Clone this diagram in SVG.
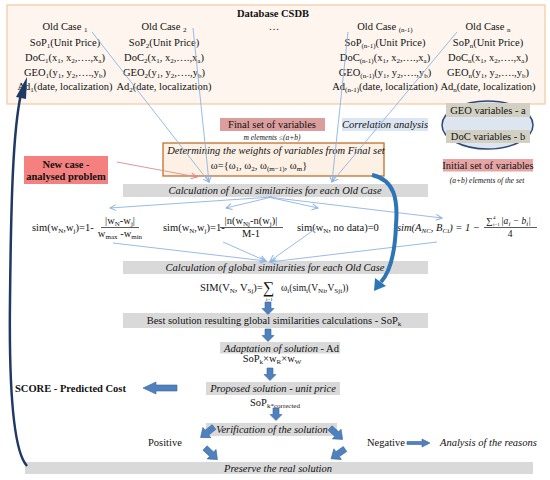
<svg xmlns="http://www.w3.org/2000/svg" width="550" height="480" viewBox="0 0 550 480">
<style>
text{font-family:"Liberation Serif","Times New Roman",serif;font-size:10.5px;fill:#111}
.c{text-anchor:middle}
.i{font-style:italic}
.b{font-weight:bold}
.s{font-size:7px}
.m{font-size:9.5px}
.bar{fill:#d9d9d9}
.ln{stroke:#8db3e2;stroke-width:0.9;fill:none;marker-end:url(#ah)}
.ba{fill:#4f81bd;stroke:#3b64a0;stroke-width:0.6}
</style>
<defs>
<marker id="ah" markerWidth="8" markerHeight="8" refX="7" refY="4" orient="auto" markerUnits="userSpaceOnUse"><path d="M1,1 L7,4 L1,7" fill="none" stroke="#8db3e2" stroke-width="1"/></marker>
<marker id="ahr" markerWidth="8" markerHeight="8" refX="7" refY="4" orient="auto" markerUnits="userSpaceOnUse"><path d="M1,1 L7,4 L1,7" fill="none" stroke="#e08a8a" stroke-width="1"/></marker>
<path id="da" d="M-3,0H3V6.5H6L0,12.5L-6,6.5H-3Z"/>
<path id="dg" d="M-3,0H3V9H6.5L0,17L-6.5,9H-3Z"/>
</defs>

<g id="database">
<rect x="7" y="5" width="538" height="99" fill="#fdf5ee" stroke="#f6c9a2" stroke-width="1.2"/>
<text class="c b" x="273" y="17">Database CSDB</text>
<text class="c" x="274" y="30">…</text>
</g>
<g id="oldcase1">
<text class="c" x="65" y="30">Old Case <tspan class="s" dy="2">1</tspan></text>
<text class="c" x="65" y="46">SoP<tspan class="s" dy="2">1</tspan><tspan dy="-2">(Unit Price)</tspan></text>
<text class="c" x="65" y="61">DoC<tspan class="s" dy="2">1</tspan><tspan dy="-2">(x</tspan><tspan class="s" dy="2">1</tspan><tspan dy="-2">, x</tspan><tspan class="s" dy="2">2</tspan><tspan dy="-2">,….,x</tspan><tspan class="s" dy="2">a</tspan><tspan dy="-2">)</tspan></text>
<text class="c" x="65" y="76">GEO<tspan class="s" dy="2">1</tspan><tspan dy="-2">(y</tspan><tspan class="s" dy="2">1</tspan><tspan dy="-2">, y</tspan><tspan class="s" dy="2">2</tspan><tspan dy="-2">,….,y</tspan><tspan class="s" dy="2">b</tspan><tspan dy="-2">)</tspan></text>
<text class="c" x="65" y="90">Ad<tspan class="s" dy="2">1</tspan><tspan dy="-2">(date, localization)</tspan></text>
</g>
<g id="oldcase2">
<text class="c" x="164" y="30">Old Case <tspan class="s" dy="2">2</tspan></text>
<text class="c" x="164" y="46">SoP<tspan class="s" dy="2">2</tspan><tspan dy="-2">(Unit Price)</tspan></text>
<text class="c" x="164" y="61">DoC<tspan class="s" dy="2">2</tspan><tspan dy="-2">(x</tspan><tspan class="s" dy="2">1</tspan><tspan dy="-2">, x</tspan><tspan class="s" dy="2">2</tspan><tspan dy="-2">,….,x</tspan><tspan class="s" dy="2">a</tspan><tspan dy="-2">)</tspan></text>
<text class="c" x="164" y="76">GEO<tspan class="s" dy="2">2</tspan><tspan dy="-2">(y</tspan><tspan class="s" dy="2">1</tspan><tspan dy="-2">, y</tspan><tspan class="s" dy="2">2</tspan><tspan dy="-2">,….,y</tspan><tspan class="s" dy="2">b</tspan><tspan dy="-2">)</tspan></text>
<text class="c" x="164" y="90">Ad<tspan class="s" dy="2">2</tspan><tspan dy="-2">(date, localization)</tspan></text>
</g>
<g id="oldcasen1">
<text class="c" x="385" y="30">Old Case <tspan class="s" dy="2">(n-1)</tspan></text>
<text class="c" x="385" y="46">SoP<tspan class="s" dy="2">(n-1)</tspan><tspan dy="-2">(Unit Price)</tspan></text>
<text class="c" x="385" y="61">DoC<tspan class="s" dy="2">(n-1)</tspan><tspan dy="-2">(x</tspan><tspan class="s" dy="2">1</tspan><tspan dy="-2">, x</tspan><tspan class="s" dy="2">2</tspan><tspan dy="-2">,….,x</tspan><tspan class="s" dy="2">a</tspan><tspan dy="-2">)</tspan></text>
<text class="c" x="385" y="76">GEO<tspan class="s" dy="2">(n-1)</tspan><tspan dy="-2">(y</tspan><tspan class="s" dy="2">1</tspan><tspan dy="-2">, y</tspan><tspan class="s" dy="2">2</tspan><tspan dy="-2">,….,y</tspan><tspan class="s" dy="2">b</tspan><tspan dy="-2">)</tspan></text>
<text class="c" x="385" y="90">Ad<tspan class="s" dy="2">(n-1)</tspan><tspan dy="-2">(date, localization)</tspan></text>
</g>
<g id="oldcasen">
<text class="c" x="488" y="30">Old Case <tspan class="s" dy="2">n</tspan></text>
<text class="c" x="488" y="46">SoP<tspan class="s" dy="2">n</tspan><tspan dy="-2">(Unit Price)</tspan></text>
<text class="c" x="488" y="61">DoC<tspan class="s" dy="2">n</tspan><tspan dy="-2">(x</tspan><tspan class="s" dy="2">1</tspan><tspan dy="-2">, x</tspan><tspan class="s" dy="2">2</tspan><tspan dy="-2">,….,x</tspan><tspan class="s" dy="2">a</tspan><tspan dy="-2">)</tspan></text>
<text class="c" x="488" y="76">GEO<tspan class="s" dy="2">n</tspan><tspan dy="-2">(y</tspan><tspan class="s" dy="2">1</tspan><tspan dy="-2">, y</tspan><tspan class="s" dy="2">2</tspan><tspan dy="-2">,….,y</tspan><tspan class="s" dy="2">b</tspan><tspan dy="-2">)</tspan></text>
<text class="c" x="488" y="90">Ad<tspan class="s" dy="2">n</tspan><tspan dy="-2">(date, localization)</tspan></text>
</g>

<g id="variables">
<ellipse cx="487.5" cy="125" rx="45.5" ry="24" fill="#dce5f0" stroke="#2f4a78" stroke-width="1.5"/>
<rect x="446" y="103" width="84" height="14" fill="#d2cfc3"/>
<text class="c" x="488" y="114">GEO variables - a</text>
<rect x="446" y="130" width="84" height="13" fill="#d2cfc3"/>
<text class="c" x="488" y="140">DoC variables - b</text>
</g>
<g id="initialset">
<rect x="443" y="159" width="90" height="12.5" fill="#e6a4a4"/>
<text class="c" x="488" y="169">Initial set of variables</text>
<text class="c i" x="487" y="183" style="font-size:7.5px">(a+b) elements of the set</text>
</g>
<g id="finalset">
<rect x="220" y="118" width="105" height="13" fill="#dc9e9d"/>
<text class="c" x="272" y="128">Final set of variables</text>
<text class="c i" x="272" y="140" style="font-size:7.5px">m elements ≤(a+b)</text>
</g>
<g id="correlation">
<rect x="342" y="118" width="86" height="13" fill="#dce6f2"/>
<text class="c i" x="385" y="128">Correlation analysis</text>
</g>
<g id="weights">
<rect x="163" y="143" width="221" height="33" fill="#fdf1e6" stroke="#c0712f" stroke-width="1.3"/>
<text class="c i" x="276" y="154">Determining the weights of variables from Final set</text>
<text class="c" x="259" y="169">ω={ω<tspan class="s" dy="2">1</tspan><tspan dy="-2">, ω</tspan><tspan class="s" dy="2">2</tspan><tspan dy="-2">, ω</tspan><tspan class="s" dy="2">(m−1)</tspan><tspan dy="-2">, ω</tspan><tspan class="s" dy="2">m</tspan><tspan dy="-2">}</tspan></text>
</g>
<g id="newcase">
<rect x="24" y="156" width="84" height="28" fill="#f4807f"/>
<text class="c b" x="66" y="167.5">New case -</text>
<text class="c b" x="66" y="180">analysed problem</text>
</g>
<g id="localsim">
<rect class="bar" x="123" y="184" width="305" height="13"/>
<text class="c i" x="275" y="194">Calculation of local similarities for each Old Case</text>
</g>
<g id="formula1">
<text x="32" y="231">sim(w<tspan class="s" dy="2">N</tspan><tspan dy="-2">,w</tspan><tspan class="s" dy="2">j</tspan><tspan dy="-2">)=1-</tspan></text>
<text class="c" x="120" y="224">|w<tspan class="s" dy="2">N</tspan><tspan dy="-2">-w</tspan><tspan class="s" dy="2">j</tspan><tspan dy="-2">|</tspan></text>
<line x1="101" y1="227.5" x2="139" y2="227.5" stroke="#111" stroke-width="0.7"/>
<text class="c" x="120" y="237">w<tspan class="s" dy="2">max</tspan><tspan dy="-2"> -w</tspan><tspan class="s" dy="2">min</tspan></text>
</g>
<g id="formula2">
<text x="163" y="231">sim(w<tspan class="s" dy="2">N</tspan><tspan dy="-2">,w</tspan><tspan class="s" dy="2">j</tspan><tspan dy="-2">)=1-</tspan></text>
<text class="c" x="251" y="224">|n(w<tspan class="s" dy="2">Nj</tspan><tspan dy="-2">-n(w</tspan><tspan class="s" dy="2">j</tspan><tspan dy="-2">)|</tspan></text>
<line x1="220" y1="227.5" x2="283" y2="227.5" stroke="#111" stroke-width="0.7"/>
<text class="c" x="251" y="237">M-1</text>
</g>
<g id="formula3">
<text x="297" y="231">sim(w<tspan class="s" dy="2">N</tspan><tspan dy="-2">, no data)=0</tspan></text>
</g>
<g id="formula4">
<text class="i" x="397" y="231">sim(A<tspan class="s" dy="2">NC</tspan><tspan dy="-2">, B</tspan><tspan class="s" dy="2">Ci</tspan><tspan dy="-2">) = 1 −</tspan></text>
<text x="486" y="224" style="font-size:9px">∑</text>
<text x="493" y="219" style="font-size:5px">4</text>
<text x="493" y="226" style="font-size:5px">i=1</text>
<text class="i m" x="501" y="224">|a<tspan class="s" dy="2">i</tspan><tspan dy="-2"> − b</tspan><tspan class="s" dy="2">i</tspan><tspan dy="-2">|</tspan></text>
<line x1="484" y1="227.5" x2="537" y2="227.5" stroke="#111" stroke-width="0.7"/>
<text class="c m" x="510" y="237">4</text>
</g>
<g id="globalsim">
<rect class="bar" x="123" y="261" width="305" height="13"/>
<text class="c i" x="275" y="271">Calculation of global similarities for each Old Case</text>
</g>
<g id="simformula">
<text x="200" y="291">SIM(V<tspan class="s" dy="2">N</tspan><tspan dy="-2">, V</tspan><tspan class="s" dy="2">Sj</tspan><tspan dy="-2">)=</tspan></text>
<text x="263" y="292.5" style="font-size:16px">∑</text>
<text x="266" y="301" style="font-size:5px">i=1</text>
<text class="m" x="281" y="291">ω<tspan class="s" dy="2">i</tspan><tspan dy="-2">(sim</tspan><tspan class="s" dy="2">i</tspan><tspan dy="-2">(V</tspan><tspan class="s" dy="2">Ni</tspan><tspan dy="-2">,V</tspan><tspan class="s" dy="2">Sji</tspan><tspan dy="-2">))</tspan></text>
</g>
<g id="best">
<rect class="bar" x="123" y="313" width="305" height="15"/>
<text class="c" x="274" y="324">Best solution resulting global similarities calculations - SoP<tspan class="s" dy="2">k</tspan></text>
</g>
<g id="adaptation">
<rect class="bar" x="220" y="342" width="120" height="11.5"/>
<text x="224" y="351.5"><tspan class="i">Adaptation of solution -</tspan>   Ad</text>
<text class="c" x="272" y="362">SoP<tspan class="s" dy="2">k</tspan><tspan dy="-2">×w</tspan><tspan class="s" dy="2">R</tspan><tspan dy="-2">×w</tspan><tspan class="s" dy="2">W</tspan></text>
</g>
<g id="proposed">
<rect class="bar" x="206" y="382" width="134" height="13"/>
<text class="c i" x="273" y="392">Proposed solution - unit price</text>
<text x="250" y="406">SoP<tspan class="s" dy="2">k*corrected</tspan></text>
</g>
<g id="score">
<text class="b" x="15" y="392">SCORE - Predicted Cost</text>
</g>
<g id="verification">
<rect class="bar" x="206" y="423" width="131" height="13"/>
<text class="c i" x="272" y="433">Verification of the solution</text>
</g>
<g id="positive"><text x="148" y="446">Positive</text></g>
<g id="negative"><text x="367" y="446">Negative</text></g>
<g id="analysis"><text class="i" x="440" y="446">Analysis of the reasons</text></g>
<g id="preserve">
<rect class="bar" x="25" y="462" width="508" height="12"/>
<text class="c i" x="278" y="471.5">Preserve the real solution</text>
</g>

<g id="connectors">
<line class="ln" x1="92" y1="32" x2="209" y2="182"/>
<line class="ln" x1="193" y1="28" x2="209" y2="182"/>
<line class="ln" x1="348" y1="32" x2="332" y2="182"/>
<line class="ln" x1="457" y1="32" x2="332" y2="182"/>
<line x1="117" y1="162" x2="197" y2="177" stroke="#e08a8a" stroke-width="0.9" marker-end="url(#ahr)"/>
<line class="ln" x1="272" y1="197" x2="110" y2="208"/>
<line class="ln" x1="272" y1="197" x2="226" y2="208"/>
<line class="ln" x1="268" y1="197" x2="318" y2="208"/>
<line class="ln" x1="268" y1="197" x2="442" y2="218"/>
<line class="ln" x1="113" y1="243" x2="266" y2="261"/>
<line class="ln" x1="223" y1="242" x2="266" y2="261"/>
<line class="ln" x1="318" y1="227" x2="270" y2="261"/>
<line class="ln" x1="437" y1="242" x2="270" y2="262"/>
<path d="M27,466 C12,450 9,380 10,300 C11,200 13,130 21,94" fill="none" stroke="#203864" stroke-width="2.5"/>
<polygon points="16,97 27,77 26,99" fill="#203864"/>
<path d="M372,175 C395,180 398,200 396,225 C395,255 390,272 381,282" fill="none" stroke="#2e75b6" stroke-width="4"/>
<polygon points="386,286 374,291 375,278" fill="#2e75b6"/>
<use href="#da" class="ba" x="268" y="302"/>
<use href="#da" class="ba" x="268" y="329"/>
<use href="#da" class="ba" x="270" y="368"/>
<use href="#da" class="ba" x="276" y="408"/>
<path class="ba" d="M177,385 H156 V382 L143,388 L156,394 V391 H177 Z"/>
<path class="ba" d="M407,441.5 H422 V439 L430,443 L422,447 V444.5 H407 Z"/>
<use href="#dg" class="ba" transform="translate(214,427) rotate(52)"/>
<use href="#dg" class="ba" transform="translate(330,428) rotate(-48)"/>
<use href="#dg" class="ba" transform="translate(205,448) rotate(-47)"/>
<use href="#dg" class="ba" transform="translate(345,449) rotate(55)"/>
</g>
</svg>
